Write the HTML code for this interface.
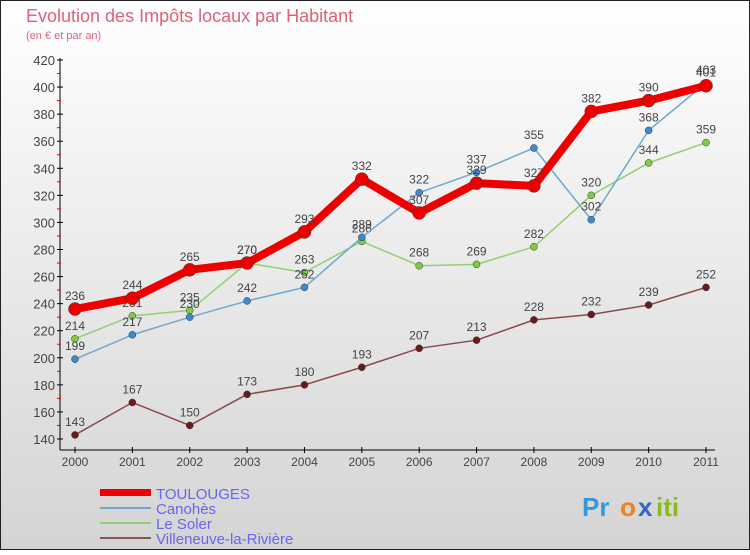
<!DOCTYPE html>
<html><head><meta charset="utf-8"><style>
body{margin:0;width:750px;height:550px;overflow:hidden;font-family:"Liberation Sans",sans-serif}
</style></head><body>
<svg id="c" width="750" height="550" xmlns="http://www.w3.org/2000/svg">
<defs><linearGradient id="bg" x1="0" y1="0" x2="0" y2="1"><stop offset="0" stop-color="#ffffff"/><stop offset="1" stop-color="#d4d4d4"/></linearGradient></defs>
<rect x="0.5" y="0.5" width="749" height="549" fill="url(#bg)" stroke="#222"/>
<text x="26" y="22" font-size="18" fill="#e0607a">Evolution des Impôts locaux par Habitant</text>
<text x="26" y="39" font-size="11" fill="#e0607a">(en € et par an)</text>
<g id="axes"></g><g id="series"></g>
<g>
<rect x="100" y="489" width="51" height="7" fill="#e00"/>
<text x="156" y="499" font-size="15" fill="#6666ee">TOULOUGES</text>
<line x1="100" y1="508" x2="151" y2="508" stroke="#6fa8d0" stroke-width="2"/>
<text x="156" y="514" font-size="15" fill="#6666ee">Canohès</text>
<line x1="100" y1="523" x2="151" y2="523" stroke="#90d070" stroke-width="2"/>
<text x="156" y="529" font-size="15" fill="#6666ee">Le Soler</text>
<line x1="100" y1="538" x2="151" y2="538" stroke="#8a5555" stroke-width="2"/>
<text x="156" y="544" font-size="15" fill="#6666ee">Villeneuve-la-Rivière</text>
</g>
<g font-size="26" font-weight="bold">
<text x="582" y="516" fill="#3399dd">Pr</text><text x="620" y="516" fill="#f08020">o</text><text x="638" y="516" fill="#3366cc">x</text><text x="656" y="516" fill="#88bb22">iti</text>
</g>
</svg>
<script>
const years=[2000,2001,2002,2003,2004,2005,2006,2007,2008,2009,2010,2011];
const yTicks=[140,160,180,200,220,240,260,280,300,320,340,360,380,400,420];
const toulouges=[236,244,265,270,293,332,307,329,327,382,390,401];
const canohes=[199,217,230,242,252,289,322,337,355,302,368,403];
const leSoler=[214,231,235,270,263,286,268,269,282,320,344,359];
const villeneuve=[143,167,150,173,180,193,207,213,228,232,239,252];
const NS="http://www.w3.org/2000/svg";
const X=i=>75+i*(706-75)/11;
const Y=v=>60+(420-v)*(439-60)/280;
function mk(t,a,p){const e=document.createElementNS(NS,t);for(const k in a)e.setAttribute(k,a[k]);p.appendChild(e);return e;}
const ax=document.getElementById('axes');
let e=mk('line',{x1:60,y1:58,x2:60,y2:450,stroke:'#000'},ax);


e=mk('line',{x1:60,y1:450,x2:715,y2:450,stroke:'#000'},ax);


yTicks.forEach(v=>{const y=Y(v);
mk('line',{x1:57,y1:y,x2:63,y2:y,stroke:'#000'},ax);
if(v<420)mk('line',{x1:57,y1:Y(v+10),x2:61,y2:Y(v+10),stroke:'#e00'},ax);
const t=mk('text',{x:55,y:y+5,'text-anchor':'end','font-size':13,fill:'#444'},ax);t.textContent=v;

});
years.forEach((yr,i)=>{const x=X(i);
mk('line',{x1:x,y1:447,x2:x,y2:453,stroke:'#000'},ax);
const t=mk('text',{x:x,y:466,'text-anchor':'middle','font-size':12,fill:'#444'},ax);t.textContent=yr;

});
const sg=document.getElementById('series');
function series(d,col,w,r,name,dot){
const g=mk('g',{},sg);


mk('polyline',{points:d.map((v,i)=>X(i)+','+Y(v)).join(' '),fill:'none',stroke:col,'stroke-width':w,'stroke-linejoin':'round'},g);
d.forEach((v,i)=>{const c=mk('circle',{cx:X(i),cy:Y(v),r:r,fill:dot,stroke:'#333','stroke-width':0.5},g);


const t=mk('text',{x:X(i),y:Y(v)-9,'text-anchor':'middle','font-size':12,fill:'#444'},g);t.textContent=v;

});
}
series(villeneuve,'#8a4a4a',1.5,3.5,'villeneuve','#6a1a1a');
series(leSoler,'#90d070',1.5,3.5,'le-soler','#80cc40');
series(canohes,'#6fa8d0',1.5,3.5,'canohes','#3d8ad0');
series(toulouges,'#e00',8,6.5,'toulouges','#e00');
</script>
</body></html>
